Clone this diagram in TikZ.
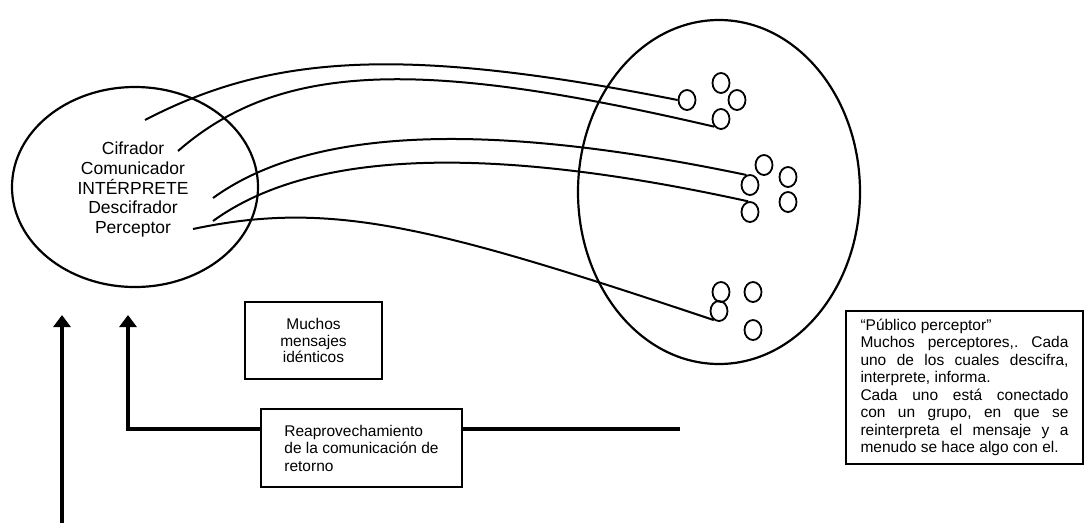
\documentclass[tikz,border=0pt]{standalone}
\usepackage{fontspec}
\setmainfont{Liberation Sans}
\usetikzlibrary{arrows.meta,shapes.geometric,positioning}
\frenchspacing

\begin{document}
\begin{tikzpicture}[x=1pt,y=-1pt,
  bigtext/.style={font=\fontsize{17.5}{19.8}\selectfont,align=center},
  boxtext/.style={draw,line width=2pt,font=\fontsize{15.5}{17.5}\selectfont},
  pcirc/.style={draw,ellipse,line width=1.8pt,minimum width=17,minimum height=20,inner sep=0pt},
  wire/.style={line width=2pt},
  feed/.style={line width=3.2pt},
  feedtip/.style={feed,-{Triangle[width=17pt,length=12pt]}}]
  \useasboundingbox (0,0) rectangle (1087,523);
  \node[draw,ellipse,line width=2.2pt,minimum width=246,minimum height=200] (sender) at (135,187) {};
  \node[bigtext] (roles) at (133,189.5) {Cifrador\\Comunicador\\INTÉRPRETE\\Descifrador\\Perceptor};
  \node[draw,ellipse,line width=2.2pt,minimum width=282,minimum height=344] (public) at (719,192) {};
  \node[pcirc] (p1) at (687,100) {};
  \node[pcirc] (p2) at (721,83) {};
  \node[pcirc] (p3) at (737,100) {};
  \node[pcirc] (p4) at (721,119) {};
  \node[pcirc] (p5) at (764,165) {};
  \node[pcirc] (p6) at (788,177) {};
  \node[pcirc] (p7) at (750,185) {};
  \node[pcirc] (p8) at (788,202) {};
  \node[pcirc] (p9) at (750,212) {};
  \node[pcirc] (p10) at (721,292) {};
  \node[pcirc] (p11) at (753,292) {};
  \node[pcirc] (p12) at (719,311) {};
  \node[pcirc] (p13) at (753,330) {};
  \coordinate (s1) at (145,120);
  \coordinate (s2) at (178,151);
  \coordinate (s3) at (213,198);
  \coordinate (s4) at (213,221);
  \coordinate (s5) at (193,229);
  \draw[wire] (s1) .. controls (270,55) and (400,45) .. (p1.west);
  \draw[wire] (s2) .. controls (280,62) and (420,58) .. (p4.south west);
  \draw[wire] (s3) .. controls (300,135) and (460,115) .. (p7.110);
  \draw[wire] (s4) .. controls (300,158) and (460,138) .. (p9.100);
  \draw[wire] (s5) .. controls (330,200) and (430,225) .. (p12.240);
  \node[boxtext,align=center,minimum width=137,minimum height=77,font=\fontsize{15.5}{16.5}\selectfont] (msgs) at (313.5,340.5) {Muchos\\mensajes\\idénticos};
  \node[boxtext,align=left,minimum width=201,minimum height=78,inner xsep=21] (reuse) at (361.5,448) {Reaprovechamiento\\de la comunicación de\\retorno};
  \node[boxtext,text width=208,align=justify,minimum height=153,inner xsep=14.5] (audience) at (964.5,387.5) {“Público perceptor”\par Muchos perceptores,. Cada\linebreak uno de los cuales descifra,\linebreak interprete, informa.\par Cada uno está conectado\linebreak con un grupo, en que se\linebreak reinterpreta el mensaje y a\linebreak menudo se hace algo con el.};
  \coordinate (baseA) at (62,523);
  \coordinate (tipA) at (62,315);
  \coordinate (tipB) at (128,315);
  \coordinate (bend) at (128,429);
  \coordinate (back) at (680,429);
  \draw[feedtip] (baseA) -- (tipA);
  \draw[feedtip] (reuse.west |- bend) -- (bend) -- (tipB);
  \draw[feed] (reuse.east |- bend) -- (back);
\end{tikzpicture}
\end{document}
